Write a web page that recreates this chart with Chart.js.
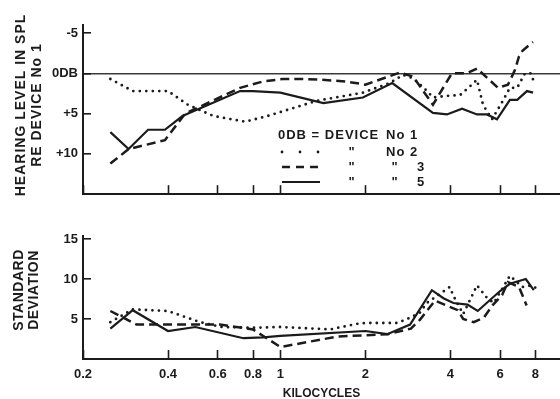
<!DOCTYPE html>
<html>
<head>
<meta charset="utf-8">
<script src="https://cdn.jsdelivr.net/npm/chart.js@4.4.0/dist/chart.umd.min.js"></script>
<style>
  html, body { margin: 0; padding: 0; background: #fff; }
  #wrap { position: relative; width: 560px; height: 399px; }
  #top { position: absolute; left: 0; top: 0; }
  #bottom { position: absolute; left: 0; top: 215px; }
</style>
</head>
<body>
<div id="wrap">
  <canvas id="top" width="560" height="215"></canvas>
  <canvas id="bottom" width="560" height="184"></canvas>
</div>
<script>
// frequency axis (kilocycles)
const xTicks = [0.2, 0.4, 0.6, 0.8, 1, 2, 4, 6, 8];
const xTickLabels = ['0.2', '0.4', '0.6', '0.8', '1', '2', '4', '6', '8'];

// hearing level re device No 1 (dB)
const levelTicks = [-5, 0, 5, 10];
const levelTickLabels = ['-5', '0DB', '+5', '+10'];

const dev2Freq = [0.25, 0.3, 0.4, 0.47, 0.58, 0.75, 0.9, 1.35, 1.96, 2.44, 2.72, 2.95, 3.31, 3.47, 3.89, 4.33, 4.7, 4.97, 5.22, 5.62, 6.14, 6.5, 6.9, 7.35, 7.7, 7.98];
const dev2Level = [0.7, 2.2, 2.2, 3.9, 5.3, 6.0, 5.3, 3.4, 2.4, 1.2, 0.2, 0.6, 2.2, 3.0, 2.8, 2.7, 1.6, 0.8, 3.9, 5.7, 3.4, 1.8, 1.8, 0.0, 0.0, 1.4];

const dev3Freq = [0.25, 0.29, 0.39, 0.46, 0.72, 0.87, 1.02, 1.2, 1.4, 1.7, 2.0, 2.65, 2.95, 3.47, 4.05, 4.58, 4.97, 5.9, 6.4, 6.77, 7.0, 7.2, 7.54, 7.85];
const dev3Level = [11.2, 9.4, 8.3, 5.0, 1.8, 1.0, 0.7, 0.7, 0.8, 1.0, 1.4, -0.1, 0.4, 3.9, 0.0, 0.0, -0.6, 1.8, 1.4, -0.4, -2.1, -2.8, -3.4, -3.9];

const dev5Freq = [0.25, 0.29, 0.34, 0.39, 0.45, 0.72, 0.8, 1.0, 1.42, 1.96, 2.49, 3.47, 3.89, 4.4, 4.97, 5.39, 5.85, 6.5, 6.9, 7.47, 7.85];
const dev5Level = [7.3, 9.4, 7.0, 7.0, 5.3, 2.2, 2.2, 2.4, 3.7, 3.0, 1.2, 4.9, 5.1, 4.4, 5.1, 5.1, 5.7, 3.3, 3.3, 2.2, 2.4];

// standard deviation
const sdTicks = [5, 10, 15];
const sdTickLabels = ['5', '10', '15'];

const sd2Freq = [0.25, 0.3, 0.4, 0.52, 0.62, 0.8, 1.0, 1.5, 1.87, 2.0, 2.6, 2.9, 3.12, 3.3, 3.98, 4.1, 4.44, 4.97, 5.4, 5.7, 6.5, 7.2, 7.75, 8.1];
const sd2Value = [4.6, 6.2, 6.0, 4.6, 4.0, 3.9, 4.0, 3.7, 4.4, 4.5, 4.5, 5.2, 5.8, 7.0, 9.0, 7.9, 5.6, 9.2, 7.6, 7.0, 10.4, 9.0, 9.2, 8.8];

const sd3Freq = [0.25, 0.31, 0.61, 0.8, 1.0, 1.59, 2.4, 2.9, 3.12, 3.53, 4.25, 4.44, 4.84, 5.26, 5.64, 6.1, 6.4, 7.0, 7.45];
const sd3Value = [6.0, 4.3, 4.3, 3.7, 1.5, 2.8, 3.1, 3.8, 4.9, 7.3, 6.1, 5.0, 4.6, 5.2, 6.7, 8.0, 9.6, 9.0, 6.7];

const sd5Freq = [0.25, 0.3, 0.4, 0.5, 0.74, 0.87, 1.0, 2.0, 2.39, 2.88, 3.44, 3.78, 4.1, 4.6, 5.0, 6.0, 6.5, 7.4, 7.9];
const sd5Value = [3.8, 6.1, 3.5, 4.0, 2.6, 2.7, 2.9, 3.5, 3.1, 4.3, 8.6, 7.6, 7.0, 6.8, 6.0, 8.5, 9.4, 10.0, 8.6];

const ink = '#1b1b1b';
const fontFamily = '"Liberation Sans", Arial, sans-serif';
const pts = (xs, ys) => xs.map((x, i) => ({ x: x, y: ys[i] }));

const dotted = { borderDash: [0, 6.5], borderCapStyle: 'round', borderWidth: 2.8 };
const dashed = { borderDash: [9, 5], borderCapStyle: 'butt', borderWidth: 2.5 };
const solid = { borderDash: [], borderCapStyle: 'butt', borderWidth: 2.2 };

function series(label, data, style) {
  return Object.assign({
    label: label,
    data: data,
    borderColor: ink,
    backgroundColor: ink,
    pointRadius: 0,
    tension: 0,
    fill: false
  }, style);
}

function xScale(showLabels) {
  return {
    type: 'logarithmic',
    min: 0.2,
    max: 9.78,
    afterBuildTicks: s => { s.ticks = xTicks.map(v => ({ value: v })); },
    afterFit: s => { s.height = showLabels ? 40 : 15; },
    border: { color: ink, width: 2 },
    grid: { drawOnChartArea: false, tickLength: -9, tickColor: ink, tickWidth: 1.6 },
    ticks: {
      display: showLabels,
      autoSkip: false,
      maxRotation: 0,
      padding: 17,
      color: ink,
      font: { family: fontFamily, size: 13, weight: 'bold' },
      callback: (v, i) => xTickLabels[i]
    },
    title: {
      display: showLabels,
      text: 'KILOCYCLES',
      color: ink,
      font: { family: fontFamily, size: 12, weight: 'bold' },
      padding: { top: 0, bottom: -2 }
    }
  };
}

function yScale(opts, ticks, labels, zeroLine) {
  return Object.assign({
    afterBuildTicks: s => { s.ticks = ticks.map(v => ({ value: v })); },
    afterFit: s => { s.width = 83; },
    border: { color: ink, width: 2 },
    grid: {
      drawOnChartArea: zeroLine,
      color: c => (c.tick && c.tick.value === 0) ? '#3a3a3a' : 'rgba(0,0,0,0)',
      lineWidth: 1.6,
      tickLength: -8,
      tickColor: ink,
      tickWidth: 1.6
    },
    ticks: {
      padding: 13,
      color: ink,
      font: { family: fontFamily, size: 13, weight: 'bold' },
      callback: (v, i) => labels[i]
    }
  }, opts);
}

function sideTitle(lines, xs, yMid, spacing) {
  return {
    id: 'sideTitle',
    afterDraw(chart) {
      const c = chart.ctx;
      c.save();
      c.fillStyle = ink;
      c.font = 'bold 14px ' + fontFamily;
      c.letterSpacing = spacing;
      c.textAlign = 'center';
      c.textBaseline = 'middle';
      lines.forEach((t, i) => {
        c.save();
        c.translate(xs[i], yMid);
        c.rotate(-Math.PI / 2);
        c.fillText(t, 0, 0);
        c.restore();
      });
      c.restore();
    }
  };
}

// key drawn inside the upper panel, with ditto marks like the original
const deviceKey = {
  id: 'deviceKey',
  afterDraw(chart) {
    const c = chart.ctx;
    const sets = chart.data.datasets;
    c.save();
    c.fillStyle = ink;
    c.strokeStyle = ink;
    c.font = 'bold 13px ' + fontFamily;
    c.textBaseline = 'middle';
    c.letterSpacing = '1px';
    c.fillText('0DB = DEVICE', 278, 135);
    c.fillText('No 1', 386, 135);
    const rows = [
      { y: 152, ds: sets[0], dash: [0, 18], marks: ['"', '', 'No 2'] },
      { y: 167, ds: sets[1], dash: [8, 6], marks: ['"', '"', '3'] },
      { y: 182, ds: sets[2], dash: [], marks: ['"', '"', '5'] }
    ];
    rows.forEach(r => {
      c.beginPath();
      c.setLineDash(r.dash);
      c.lineCap = r.ds.borderCapStyle;
      c.lineWidth = r.ds.borderWidth;
      c.moveTo(282, r.y);
      c.lineTo(320, r.y);
      c.stroke();
      c.setLineDash([]);
      c.textAlign = 'center';
      c.fillText(r.marks[0], 352, r.y);
      if (r.marks[1]) c.fillText(r.marks[1], 395, r.y);
      if (r.marks[2] === 'No 2') {
        c.textAlign = 'left';
        c.fillText(r.marks[2], 386, r.y);
      } else {
        c.fillText(r.marks[2], 421, r.y);
      }
    });
    c.restore();
  }
};

new Chart(document.getElementById('top'), {
  type: 'line',
  data: {
    datasets: [
      series('Device No 2', pts(dev2Freq, dev2Level), dotted),
      series('Device No 3', pts(dev3Freq, dev3Level), dashed),
      series('Device No 5', pts(dev5Freq, dev5Level), solid)
    ]
  },
  options: {
    responsive: false,
    animation: false,
    layout: { padding: { top: 25, left: 0, right: 0, bottom: 0 } },
    plugins: { legend: { display: false }, tooltip: { enabled: false } },
    scales: {
      x: xScale(false),
      y: yScale({ reverse: true, min: -6, max: 15 }, levelTicks, levelTickLabels, true)
    }
  },
  plugins: [sideTitle(['HEARING LEVEL IN SPL', 'RE DEVICE No 1'], [21, 37], 105, '1px'), deviceKey]
});

new Chart(document.getElementById('bottom'), {
  type: 'line',
  data: {
    datasets: [
      series('Device No 2', pts(sd2Freq, sd2Value), dotted),
      series('Device No 3', pts(sd3Freq, sd3Value), dashed),
      series('Device No 5', pts(sd5Freq, sd5Value), solid)
    ]
  },
  options: {
    responsive: false,
    animation: false,
    layout: { padding: { top: 15, left: 0, right: 0, bottom: 0 } },
    plugins: { legend: { display: false }, tooltip: { enabled: false } },
    scales: {
      x: xScale(true),
      y: yScale({ min: 0, max: 15.4 }, sdTicks, sdTickLabels, false)
    }
  },
  plugins: [sideTitle(['STANDARD', 'DEVIATION'], [19, 34], 75, '0.5px')]
});
</script>
</body>
</html>
